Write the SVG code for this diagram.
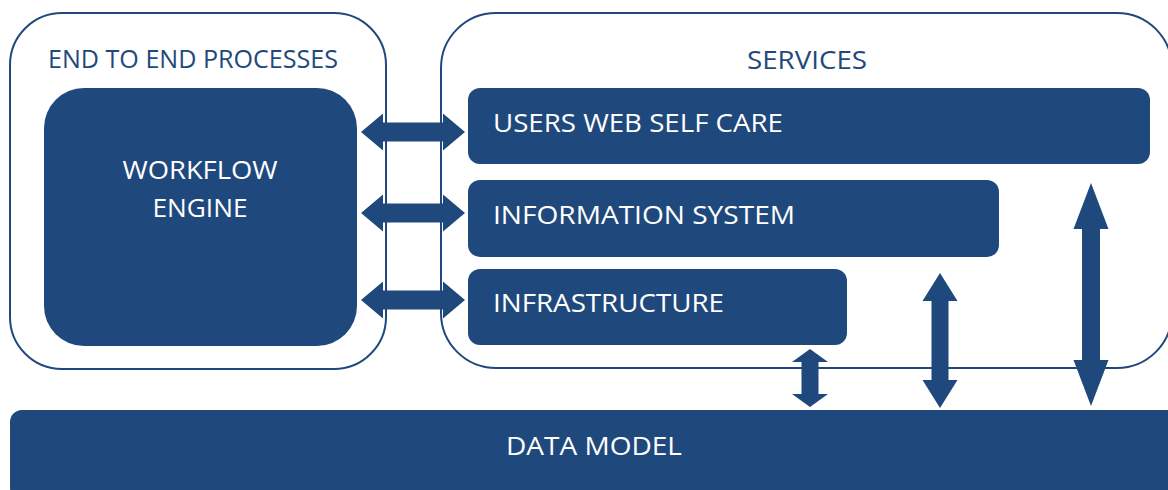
<svg xmlns="http://www.w3.org/2000/svg" width="1168" height="490" viewBox="0 0 1168 490">
<style>
.frame{fill:#fff;stroke:#1F497D;stroke-width:2}
.box{fill:#1F497D}
.arrow{fill:#1F497D}
.hd{font-family:"Open Sans","Noto Sans",sans-serif;font-size:25px;fill:#1F497D}
.lb{font-family:"Open Sans","Noto Sans",sans-serif;font-size:26px;fill:#fff}
</style>
<rect width="1168" height="490" fill="#fff"/>
<g id="end-to-end">
<rect class="frame" x="10" y="13" width="376" height="356" rx="52" ry="52"/>
<text class="hd" x="48" y="68" textLength="290" lengthAdjust="spacingAndGlyphs">END TO END PROCESSES</text>
</g>
<g id="services">
<rect class="frame" x="441" y="13" width="731" height="355" rx="55" ry="55"/>
<text class="hd" x="807" y="69" text-anchor="middle" textLength="120" lengthAdjust="spacingAndGlyphs">SERVICES</text>
</g>
<g id="workflow-engine">
<rect class="box" x="44" y="88" width="313" height="258" rx="40" ry="40"/>
<text class="lb" x="200" y="179" text-anchor="middle" textLength="155" lengthAdjust="spacingAndGlyphs">WORKFLOW</text>
<text class="lb" x="200" y="217" text-anchor="middle" textLength="95" lengthAdjust="spacingAndGlyphs">ENGINE</text>
</g>
<g id="users-web-self-care">
<rect class="box" x="468" y="88" width="682" height="76" rx="12" ry="12"/>
<text class="lb" x="493" y="132" textLength="290" lengthAdjust="spacingAndGlyphs">USERS WEB SELF CARE</text>
</g>
<g id="information-system">
<rect class="box" x="468" y="180" width="531" height="77" rx="12" ry="12"/>
<text class="lb" x="493" y="224" textLength="302" lengthAdjust="spacingAndGlyphs">INFORMATION SYSTEM</text>
</g>
<g id="infrastructure">
<rect class="box" x="468" y="269" width="379" height="76" rx="12" ry="12"/>
<text class="lb" x="493" y="312" textLength="231" lengthAdjust="spacingAndGlyphs">INFRASTRUCTURE</text>
</g>
<g id="data-model">
<rect class="box" x="10" y="410" width="1170" height="90" rx="12" ry="12"/>
<text class="lb" x="594" y="455" text-anchor="middle" textLength="176" lengthAdjust="spacingAndGlyphs">DATA MODEL</text>
</g>
<g id="connectors">
<polygon class="arrow" points="361,132 383,113.5 383,122.5 443,122.5 443,113.5 465,132 443,150.5 443,141.5 383,141.5 383,150.5"/>
<polygon class="arrow" points="361,213 383,194.5 383,203.5 443,203.5 443,194.5 465,213 443,231.5 443,222.5 383,222.5 383,231.5"/>
<polygon class="arrow" points="361,300 383,281.5 383,290.5 443,290.5 443,281.5 465,300 443,318.5 443,309.5 383,309.5 383,318.5"/>
<polygon class="arrow" points="810,349 828,362 818.5,362 818.5,394 828,394 810,407 792,394 801.5,394 801.5,362 792,362"/>
<polygon class="arrow" points="940,273 957.5,301 948.5,301 948.5,380 957.5,380 940,408 922.5,380 931.5,380 931.5,301 922.5,301"/>
<polygon class="arrow" points="1091,183 1108.5,229 1100,229 1100,360 1108.5,360 1091,406 1073.5,360 1082,360 1082,229 1073.5,229"/>
</g>
</svg>
